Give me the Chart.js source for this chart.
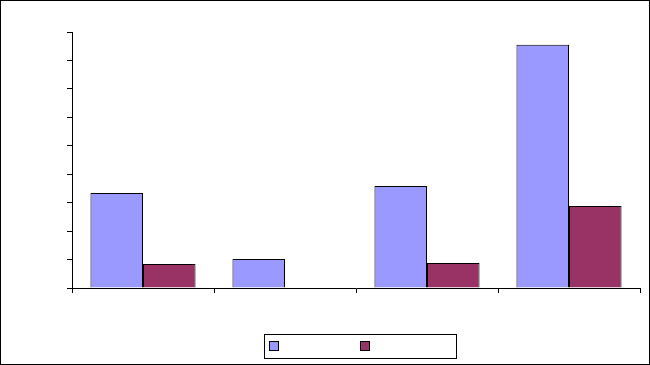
<!DOCTYPE html>
<html>
<head>
<meta charset="utf-8">
<script src="https://cdn.jsdelivr.net/npm/chart.js@4"></script>
<style>
    body { margin: 0; background: #fff; }
    #wrap { width: 650px; height: 365px; }
</style>
</head>
<body>
<div id="wrap"><canvas id="barChart" width="650" height="365"></canvas></div>
<script>
// no text is printed in the picture, so categories are blank
const categories = ["", "", "", ""];
const seriesA = [33.4, 10.2, 35.9, 85.5];
const seriesB = [8.4, 0, 8.8, 28.8];
const yTicks = [0, 10, 20, 30, 40, 50, 60, 70, 80, 90];

const colorA = "#9999ff";
const colorB = "#993366";

// frame round the whole picture and the boxed legend at the bottom
const framePlugin = {
    id: "frame",
    afterDraw(chart) {
        const ctx = chart.ctx;
        ctx.save();
        ctx.strokeStyle = "#000";
        ctx.lineWidth = 1;
        ctx.strokeRect(0.5, 0.5, chart.width - 1, chart.height - 1);

        ctx.strokeRect(264.5, 334.5, 192, 24);

        const swatches = [
            { x: 269.5, color: chart.data.datasets[0].backgroundColor },
            { x: 360.5, color: chart.data.datasets[1].backgroundColor }
        ];
        swatches.forEach((s) => {
            ctx.fillStyle = s.color;
            ctx.fillRect(s.x, 341.5, 9, 9);
            ctx.strokeRect(s.x, 341.5, 9, 9);
        });
        ctx.restore();
    }
};

new Chart(document.getElementById("barChart"), {
    type: "bar",
    data: {
        labels: categories,
        datasets: [
            {
                data: seriesA,
                backgroundColor: colorA,
                borderColor: "#000",
                borderWidth: 1
            },
            {
                data: seriesB,
                backgroundColor: colorB,
                borderColor: "#000",
                borderWidth: 1
            }
        ]
    },
    options: {
        responsive: false,
        animation: false,
        devicePixelRatio: 1,
        layout: {
            padding: { left: 0, top: 32, right: 10, bottom: 0 }
        },
        plugins: {
            legend: { display: false },
            tooltip: { enabled: false }
        },
        datasets: {
            bar: {
                categoryPercentage: 0.74,
                barPercentage: 1.0
            }
        },
        scales: {
            x: {
                ticks: { display: false },
                grid: {
                    drawOnChartArea: false,
                    drawTicks: true,
                    tickLength: 5,
                    color: "#000",
                    offset: true
                },
                border: { color: "#000", width: 1 },
                afterFit(scale) {
                    scale.height = 77;
                }
            },
            y: {
                min: 0,
                max: yTicks[yTicks.length - 1],
                afterBuildTicks(scale) {
                    scale.ticks = yTicks.map((v) => ({ value: v }));
                },
                ticks: { display: false },
                grid: {
                    drawOnChartArea: false,
                    drawTicks: true,
                    tickLength: 5,
                    color: "#000"
                },
                border: { color: "#000", width: 1 },
                afterFit(scale) {
                    scale.width = 72;
                }
            }
        }
    },
    plugins: [framePlugin]
});
</script>
</body>
</html>
